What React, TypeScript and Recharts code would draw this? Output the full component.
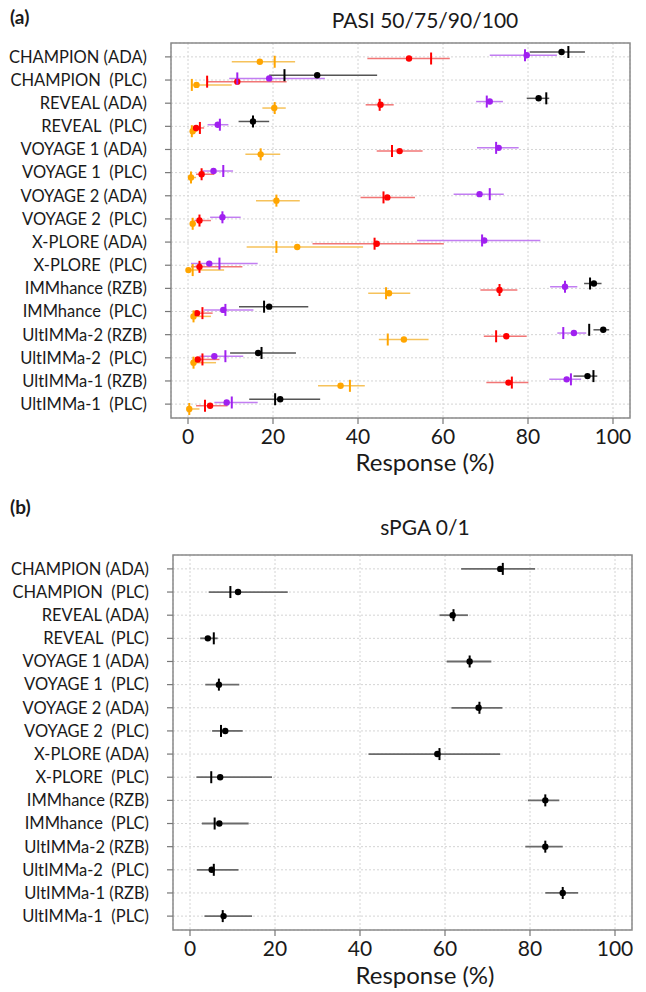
import React from "react";
import {
  ScatterChart,
  Scatter,
  XAxis,
  YAxis,
  CartesianGrid,
  ErrorBar,
  ReferenceArea,
} from "recharts";

const rowLabels = [
  "CHAMPION (ADA)",
  "CHAMPION\u00A0\u00A0(PLC)",
  "REVEAL (ADA)",
  "REVEAL\u00A0\u00A0(PLC)",
  "VOYAGE 1 (ADA)",
  "VOYAGE 1\u00A0\u00A0(PLC)",
  "VOYAGE 2 (ADA)",
  "VOYAGE 2\u00A0\u00A0(PLC)",
  "X-PLORE (ADA)",
  "X-PLORE\u00A0\u00A0(PLC)",
  "IMMhance (RZB)",
  "IMMhance\u00A0\u00A0(PLC)",
  "UltIMMa-2 (RZB)",
  "UltIMMa-2\u00A0\u00A0(PLC)",
  "UltIMMa-1 (RZB)",
  "UltIMMa-1\u00A0\u00A0(PLC)",
];
const rowTicks = rowLabels.map((_, i) => i);
const xTicks = [0, 20, 40, 60, 80, 100];

// PASI 50 (black)
const pasi50Obs = [87.9, 30.4, 82.5, 15.3, null, null, null, null, null, null, 95.5, 19.1, 97.7, 16.5, 94.0, 21.7];
const pasi50Pred = [89.5, 22.7, 84.3, 15.3, null, null, null, null, null, null, 94.6, 17.9, 94.4, 17.3, 95.4, 20.5];
const pasi50Lo = [80.4, 19.1, 79.7, 11.9, null, null, null, null, null, null, 93.2, 12.0, 95.4, 9.9, 90.7, 14.4];
const pasi50Hi = [93.4, 44.5, 85.0, 19.1, null, null, null, null, null, null, 97.3, 28.3, 99.1, 25.4, 96.3, 31.1];

// PASI 75 (purple)
const pasi75Obs = [79.7, 19.1, 71.0, 7.0, 73.1, 6.0, 68.6, 8.1, 69.7, 5.0, 88.7, 8.3, 90.8, 6.2, 89.1, 9.1];
const pasi75Pred = [79.3, 11.6, 70.3, 7.5, 72.5, 8.3, 71.0, 8.1, 69.2, 7.4, 88.7, 8.8, 88.3, 8.8, 90.1, 10.3];
const pasi75Lo = [71.0, 9.7, 67.8, 4.6, 68.0, 3.4, 62.5, 5.2, 53.9, 0.7, 85.2, 3.8, 86.9, 2.7, 85.0, 6.2];
const pasi75Hi = [86.8, 32.2, 74.1, 9.5, 77.8, 10.6, 74.3, 12.4, 82.9, 16.4, 91.6, 15.4, 93.7, 13.0, 92.5, 16.4];

// PASI 90 (red)
const pasi90Obs = [52.0, 11.6, 45.3, 1.9, 49.8, 3.2, 46.9, 2.7, 44.4, 2.7, 73.3, 2.1, 74.9, 2.3, 75.4, 5.2];
const pasi90Pred = [57.2, 4.5, 45.1, 2.8, 48.0, 3.2, 46.0, 2.7, 43.9, 2.7, 73.3, 3.4, 72.5, 3.4, 76.2, 4.0];
const pasi90Lo = [42.2, 4.6, 41.8, 1.1, 44.4, 1.9, 40.6, 1.5, 29.3, 0.7, 68.8, 1.5, 69.6, 1.1, 70.2, 1.9];
const pasi90Hi = [61.6, 23.2, 48.4, 3.8, 55.2, 6.2, 53.4, 5.4, 60.2, 12.8, 77.5, 5.8, 79.7, 7.4, 80.1, 9.3];

// PASI 100 (orange)
const pasi100Obs = [16.9, 2.0, 20.3, 1.1, 17.1, 0.7, 20.8, 1.1, 25.7, 0.1, 47.3, 1.3, 50.8, 1.3, 35.9, 0.3];
const pasi100Pred = [20.4, 0.9, 20.4, 0.9, 17.1, 0.7, 20.8, 1.1, 20.8, 1.1, 46.6, 1.3, 47.0, 1.3, 38.1, 0.3];
const pasi100Lo = [10.3, 0.7, 17.5, 0.6, 13.5, 0.5, 16.0, 0.5, 13.8, 0.0, 42.4, 0.7, 44.9, 0.6, 30.6, 0.0];
const pasi100Hi = [25.2, 10.3, 23.0, 2.2, 21.7, 1.9, 26.3, 1.9, 41.2, 8.5, 52.3, 5.4, 56.6, 6.6, 41.6, 2.7];

// sPGA 0/1 (black)
const spgaObs = [73.0, 11.3, 61.8, 4.2, 65.8, 6.8, 67.9, 8.3, 58.2, 7.1, 83.6, 6.9, 83.6, 5.1, 87.7, 7.9];
const spgaPred = [73.6, 9.5, 62.0, 5.6, 65.8, 6.8, 68.1, 7.3, 58.7, 5.0, 83.6, 5.8, 83.6, 5.6, 87.7, 7.7];
const spgaLo = [63.8, 4.4, 58.7, 2.4, 60.4, 3.6, 61.5, 5.2, 42.0, 1.5, 79.5, 2.8, 78.9, 1.6, 83.6, 3.4];
const spgaHi = [81.2, 23.0, 65.4, 6.5, 70.9, 11.6, 73.5, 12.4, 73.0, 19.3, 86.9, 13.8, 87.7, 11.4, 91.3, 14.6];

type Num = number | null;

function buildObs(obs: Num[], lo: Num[], hi: Num[], offset: number) {
  const out: { x: number; y: number; err: [number, number] }[] = [];
  obs.forEach((v, i) => {
    if (v == null) return;
    out.push({ x: v, y: i + offset, err: [v - (lo[i] as number), (hi[i] as number) - v] });
  });
  return out;
}
function buildPred(pred: Num[], offset: number) {
  const out: { x: number; y: number }[] = [];
  pred.forEach((v, i) => {
    if (v == null) return;
    out.push({ x: v, y: i + offset });
  });
  return out;
}

type SeriesDef = {
  name: string;
  obs: Num[];
  pred: Num[];
  lo: Num[];
  hi: Num[];
  offset: number;
  dotColor: string;
  lineColor: string;
};

const pasiSeries: SeriesDef[] = [
  { name: "PASI 100", obs: pasi100Obs, pred: pasi100Pred, lo: pasi100Lo, hi: pasi100Hi, offset: 0.21, dotColor: "#ffa500", lineColor: "#f6c25a" },
  { name: "PASI 90", obs: pasi90Obs, pred: pasi90Pred, lo: pasi90Lo, hi: pasi90Hi, offset: 0.07, dotColor: "#ff0000", lineColor: "#f27676" },
  { name: "PASI 75", obs: pasi75Obs, pred: pasi75Pred, lo: pasi75Lo, hi: pasi75Hi, offset: -0.07, dotColor: "#a020f0", lineColor: "#c27ef2" },
  { name: "PASI 50", obs: pasi50Obs, pred: pasi50Pred, lo: pasi50Lo, hi: pasi50Hi, offset: -0.21, dotColor: "#000000", lineColor: "#555555" },
];

const spgaSeries: SeriesDef[] = [
  { name: "sPGA 0/1", obs: spgaObs, pred: spgaPred, lo: spgaLo, hi: spgaHi, offset: 0, dotColor: "#000000", lineColor: "#6a6a6a" },
];

const FONT = "Lato, 'Open Sans', sans-serif";

const makeDot = (color: string) => (props: any) => (
  <circle cx={props.cx} cy={props.cy} r={3.2} fill={color} />
);
const makeTick = (color: string) => (props: any) => (
  <line x1={props.cx} x2={props.cx} y1={props.cy - 6} y2={props.cy + 6} stroke={color} strokeWidth={2} />
);

function Panel({ series, lineWidth }: { series: SeriesDef[]; lineWidth: number }) {
  return (
    <ScatterChart width={646} height={480} margin={{ top: 43, right: 16, bottom: 32, left: 0 }}>
      <CartesianGrid stroke="#d4d4d4" strokeDasharray="2 2" />
      <XAxis
        type="number"
        dataKey="x"
        domain={[-4, 104]}
        ticks={xTicks}
        interval={0}
        allowDataOverflow
        axisLine={false}
        tickLine={{ stroke: "#777", strokeWidth: 1.2 }}
        tickSize={6}
        tickMargin={5}
        height={30}
        tick={{ fontSize: 21, fill: "#1a1a1a", fontFamily: FONT }}
      />
      <YAxis
        type="number"
        dataKey="y"
        domain={[-0.6, 15.6]}
        reversed
        ticks={rowTicks}
        interval={0}
        allowDataOverflow
        axisLine={false}
        tickLine={{ stroke: "#777", strokeWidth: 1.2 }}
        tickSize={6}
        tickMargin={18}
        width={171}
        tickFormatter={(v: number) => rowLabels[Math.round(v)] ?? ""}
        tick={{ fontSize: 16.5, fill: "#1a1a1a", fontFamily: FONT }}
      />
      <ReferenceArea x1={-4} x2={104} y1={-0.6} y2={15.6} fill="none" stroke="#8a8a8a" strokeWidth={1.5} />
      {series.map((s) => (
        <Scatter
          key={s.name + "-obs"}
          name={s.name}
          data={buildObs(s.obs, s.lo, s.hi, s.offset)}
          shape={makeDot(s.dotColor)}
          isAnimationActive={false}
        >
          <ErrorBar dataKey="err" direction="x" width={0} stroke={s.lineColor} strokeWidth={lineWidth} />
        </Scatter>
      ))}
      {series.map((s) => (
        <Scatter
          key={s.name + "-pred"}
          name={s.name + " pred"}
          data={buildPred(s.pred, s.offset)}
          shape={makeTick(s.dotColor)}
          isAnimationActive={false}
        />
      ))}
    </ScatterChart>
  );
}

const textBase: React.CSSProperties = {
  position: "absolute",
  fontFamily: FONT,
  color: "#1a1a1a",
  whiteSpace: "nowrap",
  lineHeight: "28px",
};

export default function App() {
  return (
    <div style={{ position: "absolute", left: 0, top: 0, width: 646, height: 992, background: "#fff", overflow: "hidden" }}>
      <div style={{ position: "absolute", left: 0, top: 0 }}>
        <Panel series={pasiSeries} lineWidth={1.5} />
      </div>
      <div style={{ position: "absolute", left: 2, top: 512 }}>
        <Panel series={spgaSeries} lineWidth={1.8} />
      </div>

      <div style={{ ...textBase, left: 10, top: 3, fontSize: 19, fontWeight: 700 }}>(a)</div>
      <div style={{ ...textBase, left: 225, width: 400, top: 6, fontSize: 21, textAlign: "center" }}>PASI 50/75/90/100</div>
      <div style={{ ...textBase, left: 225, width: 400, top: 448, fontSize: 24, textAlign: "center" }}>Response (%)</div>

      <div style={{ ...textBase, left: 10, top: 493, fontSize: 19, fontWeight: 700 }}>(b)</div>
      <div style={{ ...textBase, left: 225, width: 400, top: 513, fontSize: 21, textAlign: "center" }}>sPGA 0/1</div>
      <div style={{ ...textBase, left: 225, width: 400, top: 961, fontSize: 24, textAlign: "center" }}>Response (%)</div>
    </div>
  );
}
